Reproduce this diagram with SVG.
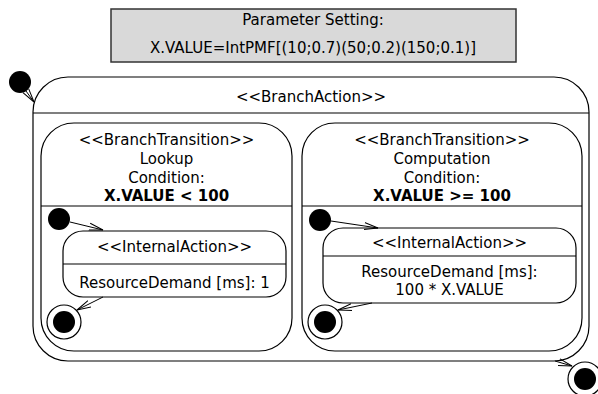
<svg xmlns="http://www.w3.org/2000/svg" width="598" height="394" viewBox="0 0 598 394">
<style>
text{font-family:"DejaVu Sans",Verdana,sans-serif;font-size:15px;fill:#000;text-anchor:middle}
.b{font-weight:bold}
.box{fill:#fff;stroke:#000;stroke-width:1.2}
.ln{stroke:#000;stroke-width:1.2;fill:none}
.init{fill:#000}
.fin{fill:#fff;stroke:#000;stroke-width:1.2}
.edge{stroke:#000;stroke-width:1;fill:none;marker-end:url(#arr)}
</style>
<defs>
<marker id="arr" markerUnits="userSpaceOnUse" markerWidth="16" markerHeight="10" refX="14" refY="4" orient="auto" viewBox="0 0 16 8">
<path d="M0,0.5 L14,4 L0,7.5" fill="none" stroke="#000" stroke-width="1"/>
</marker>
</defs>
<g id="param">
<rect x="111" y="9" width="405" height="53" fill="#d9d9d9" stroke="#333" stroke-width="1.5"/>
<text x="313" y="25">Parameter Setting:</text>
<text x="313" y="53">X.VALUE=IntPMF[(10;0.7)(50;0.2)(150;0.1)]</text>
</g>
<g id="branchAction">
<rect class="box" x="33" y="77" width="556" height="284" rx="35"/>
<line class="ln" x1="33" y1="113" x2="589" y2="113"/>
<text x="311" y="102">&lt;&lt;BranchAction&gt;&gt;</text>
</g>
<g id="transLookup">
<rect class="box" x="41" y="123" width="251" height="228" rx="33"/>
<line class="ln" x1="41" y1="206" x2="292" y2="206"/>
<text x="166.5" y="145">&lt;&lt;BranchTransition&gt;&gt;</text>
<text x="166.5" y="164">Lookup</text>
<text x="166.5" y="183">Condition:</text>
<text class="b" x="166.5" y="201">X.VALUE &lt; 100</text>
</g>
<g id="transComputation">
<rect class="box" x="302" y="123" width="280" height="228" rx="33"/>
<line class="ln" x1="302" y1="206" x2="582" y2="206"/>
<text x="442" y="145">&lt;&lt;BranchTransition&gt;&gt;</text>
<text x="442" y="164">Computation</text>
<text x="442" y="183">Condition:</text>
<text class="b" x="442" y="201">X.VALUE &gt;= 100</text>
</g>
<g id="internalLookup">
<rect class="box" x="63" y="231" width="223" height="66" rx="20"/>
<line class="ln" x1="63" y1="264" x2="286" y2="264"/>
<text x="174.5" y="252">&lt;&lt;InternalAction&gt;&gt;</text>
<text x="174.5" y="288">ResourceDemand [ms]: 1</text>
</g>
<g id="internalComputation">
<rect class="box" x="323" y="228" width="253" height="75" rx="20"/>
<line class="ln" x1="323" y1="256" x2="576" y2="256"/>
<text x="449.5" y="248">&lt;&lt;InternalAction&gt;&gt;</text>
<text x="449.5" y="277">ResourceDemand [ms]:</text>
<text x="449.5" y="295">100 * X.VALUE</text>
</g>
<g id="initOuter"><circle class="init" cx="20" cy="82" r="11"/></g>
<g id="initLookup"><circle class="init" cx="59" cy="219" r="11"/></g>
<g id="initComputation"><circle class="init" cx="320" cy="220" r="11"/></g>
<g id="finalLookup"><circle class="fin" cx="64" cy="322" r="17"/><circle class="init" cx="64" cy="322" r="11"/></g>
<g id="finalComputation"><circle class="fin" cx="325" cy="322" r="17"/><circle class="init" cx="325" cy="322" r="11"/></g>
<g id="finalOuter"><circle class="fin" cx="585" cy="379" r="17"/><circle class="init" cx="585" cy="379" r="11"/></g>
<g id="connectors">
<line class="edge" x1="26" y1="91" x2="34" y2="102"/>
<line class="edge" x1="70" y1="222" x2="103" y2="230"/>
<line class="edge" x1="331" y1="221" x2="378" y2="228"/>
<line class="edge" x1="103" y1="297" x2="77" y2="310"/>
<line class="edge" x1="372" y1="303" x2="338" y2="310"/>
<line class="edge" x1="555" y1="361" x2="572" y2="366"/>
</g>
</svg>
